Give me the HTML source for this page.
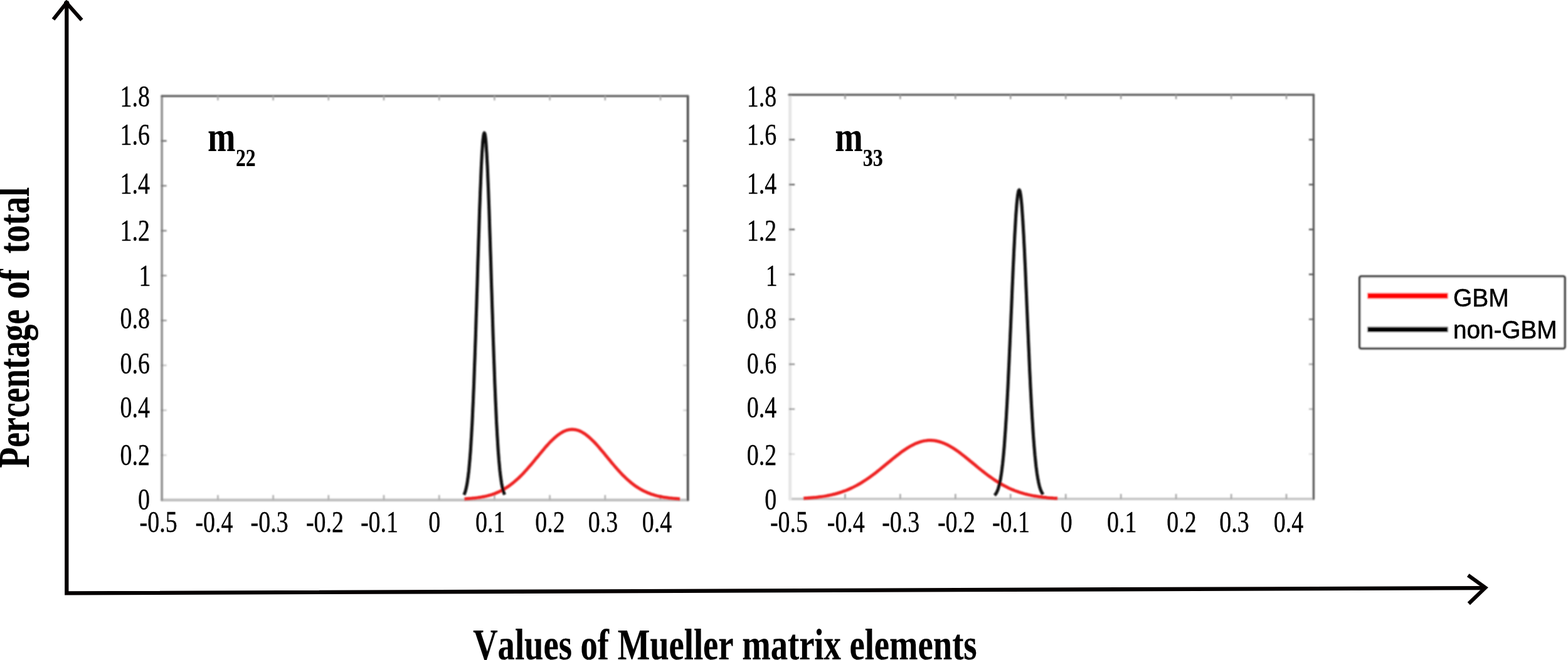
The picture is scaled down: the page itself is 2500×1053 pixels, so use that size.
<!DOCTYPE html>
<html lang="en"><head><meta charset="utf-8"><title>Values of Mueller matrix elements</title>
<style>
html,body{margin:0;padding:0;background:#fff;}
body{width:2500px;height:1053px;overflow:hidden;}
svg{display:block;}
.sf{font-family:"Liberation Serif","Times New Roman",Times,serif;fill:#000;stroke:#000;stroke-width:0.35px;stroke-linejoin:round;font-kerning:none;}
.bd{stroke-width:0.2px;}
.ss{font-family:"Liberation Sans",Arial,Helvetica,sans-serif;fill:#000;stroke:#000;stroke-width:0.6px;stroke-linejoin:round;font-kerning:none;}
</style></head><body>
<svg width="2500" height="1053" viewBox="0 0 2500 1053" role="img" aria-label="Distributions of Mueller matrix elements m22 and m33 for GBM and non-GBM">
<defs>
<filter id="b1" x="-5%" y="-5%" width="110%" height="110%"><feGaussianBlur stdDeviation="0.9"/></filter>
<filter id="b3" x="-5%" y="-5%" width="110%" height="110%"><feGaussianBlur stdDeviation="1.15"/></filter>
<filter id="b2" x="-5%" y="-20%" width="110%" height="140%"><feGaussianBlur stdDeviation="0.6"/></filter>
</defs>
<rect width="2500" height="1053" fill="#fff"/>
<g id="plots" filter="url(#b1)" fill="none" stroke-linecap="round">
<g id="frame-m22">
<line x1="258.1" y1="797.8" x2="1096.7" y2="797.8" stroke="#c0c0c0" stroke-width="4.4"/>
<line x1="258.1" y1="153.2" x2="258.1" y2="797.8" stroke="#909090" stroke-width="3.6"/>
<line x1="1096.7" y1="153.2" x2="1096.7" y2="797.8" stroke="#4c4c4c" stroke-width="3.6"/>
<line x1="258.1" y1="153.2" x2="1096.7" y2="153.2" stroke="#646464" stroke-width="3.6"/>
<line x1="347.4" y1="153.2" x2="347.4" y2="160.2" stroke="#a8a8a8" stroke-width="2.4" stroke-linecap="butt"/>
<line x1="347.4" y1="797.8" x2="347.4" y2="789.8" stroke="#b0b0b0" stroke-width="2.6" stroke-linecap="butt"/>
<line x1="435.6" y1="153.2" x2="435.6" y2="160.2" stroke="#a8a8a8" stroke-width="2.4" stroke-linecap="butt"/>
<line x1="435.6" y1="797.8" x2="435.6" y2="789.8" stroke="#b0b0b0" stroke-width="2.6" stroke-linecap="butt"/>
<line x1="523.8" y1="153.2" x2="523.8" y2="160.2" stroke="#a8a8a8" stroke-width="2.4" stroke-linecap="butt"/>
<line x1="523.8" y1="797.8" x2="523.8" y2="789.8" stroke="#b0b0b0" stroke-width="2.6" stroke-linecap="butt"/>
<line x1="612.0" y1="153.2" x2="612.0" y2="160.2" stroke="#a8a8a8" stroke-width="2.4" stroke-linecap="butt"/>
<line x1="612.0" y1="797.8" x2="612.0" y2="789.8" stroke="#b0b0b0" stroke-width="2.6" stroke-linecap="butt"/>
<line x1="700.2" y1="153.2" x2="700.2" y2="160.2" stroke="#a8a8a8" stroke-width="2.4" stroke-linecap="butt"/>
<line x1="700.2" y1="797.8" x2="700.2" y2="789.8" stroke="#b0b0b0" stroke-width="2.6" stroke-linecap="butt"/>
<line x1="788.4" y1="153.2" x2="788.4" y2="160.2" stroke="#a8a8a8" stroke-width="2.4" stroke-linecap="butt"/>
<line x1="788.4" y1="797.8" x2="788.4" y2="789.8" stroke="#b0b0b0" stroke-width="2.6" stroke-linecap="butt"/>
<line x1="876.6" y1="153.2" x2="876.6" y2="160.2" stroke="#a8a8a8" stroke-width="2.4" stroke-linecap="butt"/>
<line x1="876.6" y1="797.8" x2="876.6" y2="789.8" stroke="#b0b0b0" stroke-width="2.6" stroke-linecap="butt"/>
<line x1="964.8" y1="153.2" x2="964.8" y2="160.2" stroke="#a8a8a8" stroke-width="2.4" stroke-linecap="butt"/>
<line x1="964.8" y1="797.8" x2="964.8" y2="789.8" stroke="#b0b0b0" stroke-width="2.6" stroke-linecap="butt"/>
<line x1="1053.0" y1="153.2" x2="1053.0" y2="160.2" stroke="#a8a8a8" stroke-width="2.4" stroke-linecap="butt"/>
<line x1="1053.0" y1="797.8" x2="1053.0" y2="789.8" stroke="#b0b0b0" stroke-width="2.6" stroke-linecap="butt"/>
<line x1="256.6" y1="726.2" x2="265.6" y2="726.2" stroke="#707070" stroke-width="2.6" stroke-opacity="0.3" stroke-linecap="butt"/>
<line x1="1098.2" y1="726.2" x2="1089.2" y2="726.2" stroke="#585858" stroke-width="2.6" stroke-opacity="0.2" stroke-linecap="butt"/>
<line x1="256.6" y1="654.6" x2="265.6" y2="654.6" stroke="#707070" stroke-width="2.6" stroke-opacity="0.4" stroke-linecap="butt"/>
<line x1="1098.2" y1="654.6" x2="1089.2" y2="654.6" stroke="#585858" stroke-width="2.6" stroke-opacity="0.25" stroke-linecap="butt"/>
<line x1="256.6" y1="582.9" x2="265.6" y2="582.9" stroke="#707070" stroke-width="2.6" stroke-opacity="0.4" stroke-linecap="butt"/>
<line x1="1098.2" y1="582.9" x2="1089.2" y2="582.9" stroke="#585858" stroke-width="2.6" stroke-opacity="0.25" stroke-linecap="butt"/>
<line x1="256.6" y1="511.3" x2="265.6" y2="511.3" stroke="#707070" stroke-width="2.6" stroke-opacity="0.7" stroke-linecap="butt"/>
<line x1="1098.2" y1="511.3" x2="1089.2" y2="511.3" stroke="#585858" stroke-width="2.6" stroke-opacity="0.5" stroke-linecap="butt"/>
<line x1="256.6" y1="439.7" x2="265.6" y2="439.7" stroke="#707070" stroke-width="2.6" stroke-opacity="0.7" stroke-linecap="butt"/>
<line x1="1098.2" y1="439.7" x2="1089.2" y2="439.7" stroke="#585858" stroke-width="2.6" stroke-opacity="0.6" stroke-linecap="butt"/>
<line x1="256.6" y1="368.1" x2="265.6" y2="368.1" stroke="#707070" stroke-width="2.6" stroke-opacity="0.8" stroke-linecap="butt"/>
<line x1="1098.2" y1="368.1" x2="1089.2" y2="368.1" stroke="#585858" stroke-width="2.6" stroke-opacity="0.8" stroke-linecap="butt"/>
<line x1="256.6" y1="296.4" x2="265.6" y2="296.4" stroke="#707070" stroke-width="2.6" stroke-opacity="0.8" stroke-linecap="butt"/>
<line x1="1098.2" y1="296.4" x2="1089.2" y2="296.4" stroke="#585858" stroke-width="2.6" stroke-opacity="1.0" stroke-linecap="butt"/>
<line x1="256.6" y1="224.8" x2="265.6" y2="224.8" stroke="#707070" stroke-width="2.6" stroke-opacity="1.0" stroke-linecap="butt"/>
<line x1="1098.2" y1="224.8" x2="1089.2" y2="224.8" stroke="#585858" stroke-width="2.6" stroke-opacity="1.0" stroke-linecap="butt"/>
</g>
<g id="frame-m33">
<line x1="1259.6" y1="796.0" x2="2094.4" y2="796.0" stroke="#c8c8c8" stroke-width="3.8"/>
<line x1="1259.6" y1="151.2" x2="1259.6" y2="796.0" stroke="#e6e6e6" stroke-width="5.2"/>
<line x1="2094.4" y1="151.2" x2="2094.4" y2="796.0" stroke="#5c5c5c" stroke-width="3.3"/>
<line x1="1258.1" y1="151.2" x2="2094.4" y2="151.2" stroke="#646464" stroke-width="3.6"/>
<line x1="1347.4" y1="151.2" x2="1347.4" y2="158.2" stroke="#9a9a9a" stroke-width="2.4" stroke-linecap="butt"/>
<line x1="1347.4" y1="796.0" x2="1347.4" y2="788.0" stroke="#a8a8a8" stroke-width="2.6" stroke-linecap="butt"/>
<line x1="1435.3" y1="151.2" x2="1435.3" y2="158.2" stroke="#9a9a9a" stroke-width="2.4" stroke-linecap="butt"/>
<line x1="1435.3" y1="796.0" x2="1435.3" y2="788.0" stroke="#a8a8a8" stroke-width="2.6" stroke-linecap="butt"/>
<line x1="1523.3" y1="151.2" x2="1523.3" y2="158.2" stroke="#9a9a9a" stroke-width="2.4" stroke-linecap="butt"/>
<line x1="1523.3" y1="796.0" x2="1523.3" y2="788.0" stroke="#a8a8a8" stroke-width="2.6" stroke-linecap="butt"/>
<line x1="1611.2" y1="151.2" x2="1611.2" y2="158.2" stroke="#9a9a9a" stroke-width="2.4" stroke-linecap="butt"/>
<line x1="1611.2" y1="796.0" x2="1611.2" y2="788.0" stroke="#a8a8a8" stroke-width="2.6" stroke-linecap="butt"/>
<line x1="1699.2" y1="151.2" x2="1699.2" y2="158.2" stroke="#9a9a9a" stroke-width="2.4" stroke-linecap="butt"/>
<line x1="1699.2" y1="796.0" x2="1699.2" y2="788.0" stroke="#a8a8a8" stroke-width="2.6" stroke-linecap="butt"/>
<line x1="1787.2" y1="151.2" x2="1787.2" y2="158.2" stroke="#9a9a9a" stroke-width="2.4" stroke-linecap="butt"/>
<line x1="1787.2" y1="796.0" x2="1787.2" y2="788.0" stroke="#a8a8a8" stroke-width="2.6" stroke-linecap="butt"/>
<line x1="1875.1" y1="151.2" x2="1875.1" y2="158.2" stroke="#9a9a9a" stroke-width="2.4" stroke-linecap="butt"/>
<line x1="1875.1" y1="796.0" x2="1875.1" y2="788.0" stroke="#a8a8a8" stroke-width="2.6" stroke-linecap="butt"/>
<line x1="1963.1" y1="151.2" x2="1963.1" y2="158.2" stroke="#9a9a9a" stroke-width="2.4" stroke-linecap="butt"/>
<line x1="1963.1" y1="796.0" x2="1963.1" y2="788.0" stroke="#a8a8a8" stroke-width="2.6" stroke-linecap="butt"/>
<line x1="2051.0" y1="151.2" x2="2051.0" y2="158.2" stroke="#9a9a9a" stroke-width="2.4" stroke-linecap="butt"/>
<line x1="2051.0" y1="796.0" x2="2051.0" y2="788.0" stroke="#a8a8a8" stroke-width="2.6" stroke-linecap="butt"/>
<line x1="1258.1" y1="724.4" x2="1267.1" y2="724.4" stroke="#686868" stroke-width="2.6" stroke-opacity="0.25" stroke-linecap="butt"/>
<line x1="2095.9" y1="724.4" x2="2086.9" y2="724.4" stroke="#585858" stroke-width="2.6" stroke-opacity="0.2" stroke-linecap="butt"/>
<line x1="1258.1" y1="652.7" x2="1267.1" y2="652.7" stroke="#686868" stroke-width="2.6" stroke-opacity="0.6" stroke-linecap="butt"/>
<line x1="2095.9" y1="652.7" x2="2086.9" y2="652.7" stroke="#585858" stroke-width="2.6" stroke-opacity="0.4" stroke-linecap="butt"/>
<line x1="1258.1" y1="581.1" x2="1267.1" y2="581.1" stroke="#686868" stroke-width="2.6" stroke-opacity="0.7" stroke-linecap="butt"/>
<line x1="2095.9" y1="581.1" x2="2086.9" y2="581.1" stroke="#585858" stroke-width="2.6" stroke-opacity="0.5" stroke-linecap="butt"/>
<line x1="1258.1" y1="509.4" x2="1267.1" y2="509.4" stroke="#686868" stroke-width="2.6" stroke-opacity="0.8" stroke-linecap="butt"/>
<line x1="2095.9" y1="509.4" x2="2086.9" y2="509.4" stroke="#585858" stroke-width="2.6" stroke-opacity="0.8" stroke-linecap="butt"/>
<line x1="1258.1" y1="437.8" x2="1267.1" y2="437.8" stroke="#686868" stroke-width="2.6" stroke-opacity="0.9" stroke-linecap="butt"/>
<line x1="2095.9" y1="437.8" x2="2086.9" y2="437.8" stroke="#585858" stroke-width="2.6" stroke-opacity="1.0" stroke-linecap="butt"/>
<line x1="1258.1" y1="366.1" x2="1267.1" y2="366.1" stroke="#686868" stroke-width="2.6" stroke-opacity="1.0" stroke-linecap="butt"/>
<line x1="2095.9" y1="366.1" x2="2086.9" y2="366.1" stroke="#585858" stroke-width="2.6" stroke-opacity="1.0" stroke-linecap="butt"/>
<line x1="1258.1" y1="294.5" x2="1267.1" y2="294.5" stroke="#686868" stroke-width="2.6" stroke-opacity="1.0" stroke-linecap="butt"/>
<line x1="2095.9" y1="294.5" x2="2086.9" y2="294.5" stroke="#585858" stroke-width="2.6" stroke-opacity="1.0" stroke-linecap="butt"/>
<line x1="1258.1" y1="222.8" x2="1267.1" y2="222.8" stroke="#686868" stroke-width="2.6" stroke-opacity="1.0" stroke-linecap="butt"/>
<line x1="2095.9" y1="222.8" x2="2086.9" y2="222.8" stroke="#585858" stroke-width="2.6" stroke-opacity="1.0" stroke-linecap="butt"/>
</g>
</g>
<g id="curves" filter="url(#b3)" fill="none">
<g id="curves-m22" stroke-linecap="butt">
<path d="M740.5,795.9 L743.4,795.7 L746.2,795.5 L749.1,795.3 L752.0,795.1 L754.8,794.8 L757.7,794.5 L760.5,794.1 L763.4,793.7 L766.3,793.3 L769.1,792.8 L772.0,792.2 L774.9,791.6 L777.7,790.9 L780.6,790.1 L783.4,789.3 L786.3,788.3 L789.2,787.3 L792.0,786.1 L794.9,784.9 L797.8,783.5 L800.6,782.1 L803.5,780.5 L806.3,778.7 L809.2,776.9 L812.1,774.9 L814.9,772.8 L817.8,770.6 L820.6,768.2 L823.5,765.7 L826.4,763.1 L829.2,760.4 L832.1,757.5 L835.0,754.5 L837.8,751.4 L840.7,748.2 L843.5,744.9 L846.4,741.6 L849.3,738.2 L852.1,734.7 L855.0,731.2 L857.9,727.8 L860.7,724.3 L863.6,720.8 L866.5,717.4 L869.3,714.0 L872.2,710.8 L875.0,707.6 L877.9,704.6 L880.8,701.8 L883.6,699.1 L886.5,696.6 L889.4,694.3 L892.2,692.2 L895.1,690.4 L897.9,688.8 L900.8,687.5 L903.7,686.4 L906.5,685.7 L909.4,685.3 L912.2,685.1 L915.1,685.2 L918.0,685.7 L920.8,686.4 L923.7,687.4 L926.6,688.7 L929.4,690.3 L932.3,692.1 L935.1,694.2 L938.0,696.5 L940.9,699.0 L943.7,701.7 L946.6,704.5 L949.5,707.5 L952.3,710.7 L955.2,713.9 L958.0,717.3 L960.9,720.7 L963.8,724.1 L966.6,727.6 L969.5,731.1 L972.4,734.6 L975.2,738.1 L978.1,741.5 L981.0,744.8 L983.8,748.1 L986.7,751.3 L989.5,754.4 L992.4,757.4 L995.3,760.3 L998.1,763.0 L1001.0,765.6 L1003.9,768.1 L1006.7,770.5 L1009.6,772.8 L1012.4,774.9 L1015.3,776.8 L1018.2,778.7 L1021.0,780.4 L1023.9,782.0 L1026.8,783.5 L1029.6,784.8 L1032.5,786.1 L1035.3,787.2 L1038.2,788.3 L1041.1,789.2 L1043.9,790.1 L1046.8,790.9 L1049.7,791.6 L1052.5,792.2 L1055.4,792.8 L1058.2,793.3 L1061.1,793.7 L1064.0,794.1 L1066.8,794.5 L1069.7,794.8 L1072.5,795.1 L1075.4,795.3 L1078.3,795.5 L1081.1,795.7 L1084.0,795.9" stroke="#ee2020" stroke-width="5.0"/>
<path d="M739.8,789.5 L740.3,788.3 L740.9,787.0 L741.4,785.5 L742.0,783.8 L742.5,781.9 L743.0,779.8 L743.6,777.4 L744.1,774.8 L744.7,771.8 L745.2,768.6 L745.7,764.9 L746.3,761.0 L746.8,756.6 L747.4,751.8 L747.9,746.5 L748.4,740.8 L749.0,734.6 L749.5,727.8 L750.1,720.5 L750.6,712.7 L751.1,704.2 L751.7,695.2 L752.2,685.5 L752.8,675.3 L753.3,664.3 L753.8,652.8 L754.4,640.7 L754.9,627.9 L755.5,614.5 L756.0,600.5 L756.5,586.0 L757.1,571.0 L757.6,555.4 L758.2,539.4 L758.7,523.1 L759.2,506.3 L759.8,489.3 L760.3,472.1 L760.9,454.8 L761.4,437.3 L761.9,420.0 L762.5,402.7 L763.0,385.6 L763.6,368.8 L764.1,352.4 L764.6,336.5 L765.2,321.2 L765.7,306.5 L766.3,292.6 L766.8,279.6 L767.3,267.5 L767.9,256.4 L768.4,246.4 L769.0,237.6 L769.5,230.0 L770.0,223.7 L770.6,218.7 L771.1,215.1 L771.7,212.8 L772.2,212.0 L772.7,212.6 L773.3,214.6 L773.8,217.9 L774.4,222.7 L774.9,228.7 L775.4,236.1 L776.0,244.7 L776.5,254.5 L777.1,265.3 L777.6,277.3 L778.1,290.1 L778.7,303.9 L779.2,318.4 L779.8,333.6 L780.3,349.4 L780.8,365.7 L781.4,382.5 L781.9,399.5 L782.5,416.7 L783.0,434.1 L783.5,451.5 L784.1,468.9 L784.6,486.1 L785.2,503.2 L785.7,520.0 L786.2,536.4 L786.8,552.5 L787.3,568.1 L787.9,583.3 L788.4,597.9 L788.9,612.0 L789.5,625.5 L790.0,638.3 L790.6,650.6 L791.1,662.3 L791.6,673.3 L792.2,683.7 L792.7,693.4 L793.3,702.6 L793.8,711.2 L794.3,719.1 L794.9,726.5 L795.4,733.4 L796.0,739.7 L796.5,745.5 L797.0,750.8 L797.6,755.7 L798.1,760.2 L798.7,764.2 L799.2,767.9 L799.7,771.2 L800.3,774.2 L800.8,776.9 L801.4,779.4 L801.9,781.5 L802.4,783.5 L803.0,785.2 L803.5,786.7 L804.1,788.1 L804.6,789.3" stroke="#080808" stroke-width="5.0" stroke-linejoin="round"/>
</g>
<g id="curves-m33" stroke-linecap="butt">
<path d="M1281.3,795.0 L1284.7,794.8 L1288.0,794.6 L1291.4,794.3 L1294.8,794.0 L1298.2,793.7 L1301.5,793.4 L1304.9,793.0 L1308.3,792.6 L1311.7,792.1 L1315.0,791.6 L1318.4,791.0 L1321.8,790.3 L1325.1,789.6 L1328.5,788.8 L1331.9,788.0 L1335.3,787.0 L1338.6,786.0 L1342.0,784.9 L1345.4,783.7 L1348.8,782.5 L1352.1,781.1 L1355.5,779.6 L1358.9,778.1 L1362.2,776.4 L1365.6,774.6 L1369.0,772.7 L1372.4,770.8 L1375.7,768.7 L1379.1,766.5 L1382.5,764.3 L1385.8,761.9 L1389.2,759.5 L1392.6,757.0 L1396.0,754.4 L1399.3,751.8 L1402.7,749.1 L1406.1,746.3 L1409.5,743.5 L1412.8,740.8 L1416.2,738.0 L1419.6,735.2 L1422.9,732.4 L1426.3,729.7 L1429.7,727.0 L1433.1,724.4 L1436.4,721.8 L1439.8,719.4 L1443.2,717.1 L1446.6,714.9 L1449.9,712.8 L1453.3,710.9 L1456.7,709.2 L1460.0,707.6 L1463.4,706.3 L1466.8,705.1 L1470.2,704.1 L1473.5,703.4 L1476.9,702.9 L1480.3,702.6 L1483.7,702.5 L1487.0,702.7 L1490.4,703.0 L1493.8,703.7 L1497.1,704.5 L1500.5,705.5 L1503.9,706.8 L1507.3,708.2 L1510.6,709.8 L1514.0,711.6 L1517.4,713.6 L1520.7,715.7 L1524.1,717.9 L1527.5,720.3 L1530.9,722.8 L1534.2,725.4 L1537.6,728.0 L1541.0,730.7 L1544.4,733.5 L1547.7,736.2 L1551.1,739.0 L1554.5,741.8 L1557.8,744.6 L1561.2,747.4 L1564.6,750.1 L1568.0,752.8 L1571.3,755.4 L1574.7,758.0 L1578.1,760.4 L1581.5,762.8 L1584.8,765.2 L1588.2,767.4 L1591.6,769.5 L1594.9,771.5 L1598.3,773.5 L1601.7,775.3 L1605.1,777.0 L1608.4,778.7 L1611.8,780.2 L1615.2,781.6 L1618.5,783.0 L1621.9,784.2 L1625.3,785.4 L1628.7,786.4 L1632.0,787.4 L1635.4,788.3 L1638.8,789.1 L1642.2,789.9 L1645.5,790.6 L1648.9,791.2 L1652.3,791.8 L1655.6,792.3 L1659.0,792.7 L1662.4,793.2 L1665.8,793.5 L1669.1,793.9 L1672.5,794.2 L1675.9,794.4 L1679.3,794.7 L1682.6,794.9 L1686.0,795.0" stroke="#ee2020" stroke-width="5.0"/>
<path d="M1585.7,790.2 L1586.3,789.6 L1587.0,788.8 L1587.6,788.0 L1588.3,787.0 L1588.9,785.9 L1589.6,784.6 L1590.2,783.1 L1590.9,781.5 L1591.5,779.7 L1592.1,777.6 L1592.8,775.3 L1593.4,772.7 L1594.1,769.8 L1594.7,766.7 L1595.4,763.1 L1596.0,759.2 L1596.7,754.9 L1597.3,750.2 L1597.9,745.1 L1598.6,739.5 L1599.2,733.4 L1599.9,726.8 L1600.5,719.7 L1601.2,712.0 L1601.8,703.8 L1602.4,695.0 L1603.1,685.7 L1603.7,675.8 L1604.4,665.3 L1605.0,654.3 L1605.7,642.7 L1606.3,630.5 L1607.0,617.9 L1607.6,604.7 L1608.2,591.2 L1608.9,577.2 L1609.5,562.8 L1610.2,548.2 L1610.8,533.3 L1611.5,518.2 L1612.1,503.0 L1612.8,487.8 L1613.4,472.6 L1614.0,457.6 L1614.7,442.7 L1615.3,428.2 L1616.0,414.1 L1616.6,400.4 L1617.3,387.3 L1617.9,374.9 L1618.6,363.3 L1619.2,352.4 L1619.8,342.5 L1620.5,333.5 L1621.1,325.6 L1621.8,318.8 L1622.4,313.2 L1623.1,308.8 L1623.7,305.6 L1624.3,303.7 L1625.0,303.0 L1625.6,303.6 L1626.3,305.5 L1626.9,308.7 L1627.6,313.1 L1628.2,318.7 L1628.9,325.5 L1629.5,333.4 L1630.1,342.3 L1630.8,352.2 L1631.4,363.0 L1632.1,374.7 L1632.7,387.1 L1633.4,400.2 L1634.0,413.8 L1634.7,428.0 L1635.3,442.5 L1635.9,457.3 L1636.6,472.4 L1637.2,487.5 L1637.9,502.8 L1638.5,517.9 L1639.2,533.0 L1639.8,547.9 L1640.5,562.6 L1641.1,576.9 L1641.7,590.9 L1642.4,604.5 L1643.0,617.6 L1643.7,630.3 L1644.3,642.4 L1645.0,654.0 L1645.6,665.1 L1646.3,675.6 L1646.9,685.5 L1647.5,694.9 L1648.2,703.7 L1648.8,711.9 L1649.5,719.5 L1650.1,726.7 L1650.8,733.3 L1651.4,739.4 L1652.0,745.0 L1652.7,750.1 L1653.3,754.8 L1654.0,759.1 L1654.6,763.1 L1655.3,766.6 L1655.9,769.8 L1656.6,772.7 L1657.2,775.3 L1657.8,777.6 L1658.5,779.6 L1659.1,781.5 L1659.8,783.1 L1660.4,784.6 L1661.1,785.8 L1661.7,787.0 L1662.4,787.9 L1663.0,788.8" stroke="#080808" stroke-width="5.0" stroke-linejoin="round"/>
</g>
</g>
<g id="legend">
<g filter="url(#b1)">
<rect x="2167.7" y="440.9" width="327.3" height="115.0" rx="2.5" fill="#fff" stroke="#333333" stroke-width="3.4"/>
<line x1="2180" y1="472" x2="2308.6" y2="472" stroke="#ff0000" stroke-width="8.8"/>
<line x1="2180" y1="525.8" x2="2308.6" y2="525.8" stroke="#000" stroke-width="8.4"/>
</g>
<text class="ss" transform="translate(2316.9,489.0) scale(0.95,1)" font-size="41" font-weight="normal" text-anchor="start" filter="url(#b2)">GBM</text>
<text class="ss" transform="translate(2317.0,540.0) scale(0.943,1)" font-size="41" font-weight="normal" text-anchor="start" filter="url(#b2)">non-GBM</text>
</g>
<g id="axes" fill="none" stroke="#050000" stroke-width="6.3">
<path d="M106.3,1.5 L106.3,946.4 L2368.3,938.1" stroke-linejoin="miter"/>
<path d="M85,31 L106,4.6 L130.3,32.1" stroke-width="6" stroke-linejoin="miter"/>
<path d="M2340.7,917.8 L2368.2,937.6 L2341.8,963.0" stroke-width="6" stroke-linejoin="miter"/>
<path d="M105.9,0 L102,3.6 L102,8 L110.4,8 L110.4,3.6 Z" fill="#050000" stroke="none"/>
</g>
<g id="yticks-m22">
<text class="sf" transform="translate(239.0,170.0) scale(0.785,1)" font-size="48.3" font-weight="normal" text-anchor="end">1.8</text>
<text class="sf" transform="translate(239.0,230.6) scale(0.785,1)" font-size="48.3" font-weight="normal" text-anchor="end">1.6</text>
<text class="sf" transform="translate(239.0,309.0) scale(0.785,1)" font-size="48.3" font-weight="normal" text-anchor="end">1.4</text>
<text class="sf" transform="translate(239.0,384.3) scale(0.785,1)" font-size="48.3" font-weight="normal" text-anchor="end">1.2</text>
<text class="sf" transform="translate(240.5,455.8) scale(0.785,1)" font-size="48.3" font-weight="normal" text-anchor="end">1</text>
<text class="sf" transform="translate(239.0,523.5) scale(0.785,1)" font-size="48.3" font-weight="normal" text-anchor="end">0.8</text>
<text class="sf" transform="translate(239.0,596.2) scale(0.785,1)" font-size="48.3" font-weight="normal" text-anchor="end">0.6</text>
<text class="sf" transform="translate(239.0,665.9) scale(0.785,1)" font-size="48.3" font-weight="normal" text-anchor="end">0.4</text>
<text class="sf" transform="translate(239.0,742.3) scale(0.785,1)" font-size="48.3" font-weight="normal" text-anchor="end">0.2</text>
<text class="sf" transform="translate(239.0,812.8) scale(0.785,1)" font-size="48.3" font-weight="normal" text-anchor="end">0</text>
</g>
<g id="yticks-m33">
<text class="sf" transform="translate(1238.2,170.0) scale(0.785,1)" font-size="48.3" font-weight="normal" text-anchor="end">1.8</text>
<text class="sf" transform="translate(1238.2,230.6) scale(0.785,1)" font-size="48.3" font-weight="normal" text-anchor="end">1.6</text>
<text class="sf" transform="translate(1238.2,309.0) scale(0.785,1)" font-size="48.3" font-weight="normal" text-anchor="end">1.4</text>
<text class="sf" transform="translate(1238.2,384.3) scale(0.785,1)" font-size="48.3" font-weight="normal" text-anchor="end">1.2</text>
<text class="sf" transform="translate(1239.7,455.8) scale(0.785,1)" font-size="48.3" font-weight="normal" text-anchor="end">1</text>
<text class="sf" transform="translate(1238.2,523.5) scale(0.785,1)" font-size="48.3" font-weight="normal" text-anchor="end">0.8</text>
<text class="sf" transform="translate(1238.2,596.2) scale(0.785,1)" font-size="48.3" font-weight="normal" text-anchor="end">0.6</text>
<text class="sf" transform="translate(1238.2,665.9) scale(0.785,1)" font-size="48.3" font-weight="normal" text-anchor="end">0.4</text>
<text class="sf" transform="translate(1238.2,742.3) scale(0.785,1)" font-size="48.3" font-weight="normal" text-anchor="end">0.2</text>
<text class="sf" transform="translate(1238.2,812.8) scale(0.785,1)" font-size="48.3" font-weight="normal" text-anchor="end">0</text>
</g>
<g id="xticks-m22">
<text class="sf" transform="translate(252.6,849.2) scale(0.785,1)" font-size="48.3" font-weight="normal" text-anchor="middle">-0.5</text>
<text class="sf" transform="translate(341.5,849.2) scale(0.785,1)" font-size="48.3" font-weight="normal" text-anchor="middle">-0.4</text>
<text class="sf" transform="translate(429.6,849.2) scale(0.785,1)" font-size="48.3" font-weight="normal" text-anchor="middle">-0.3</text>
<text class="sf" transform="translate(518.0,849.2) scale(0.785,1)" font-size="48.3" font-weight="normal" text-anchor="middle">-0.2</text>
<text class="sf" transform="translate(605.0,849.2) scale(0.785,1)" font-size="48.3" font-weight="normal" text-anchor="middle">-0.1</text>
<text class="sf" transform="translate(692.7,849.2) scale(0.785,1)" font-size="48.3" font-weight="normal" text-anchor="middle">0</text>
<text class="sf" transform="translate(781.7,849.2) scale(0.785,1)" font-size="48.3" font-weight="normal" text-anchor="middle">0.1</text>
<text class="sf" transform="translate(877.0,849.2) scale(0.785,1)" font-size="48.3" font-weight="normal" text-anchor="middle">0.2</text>
<text class="sf" transform="translate(961.5,849.2) scale(0.785,1)" font-size="48.3" font-weight="normal" text-anchor="middle">0.3</text>
<text class="sf" transform="translate(1047.4,849.2) scale(0.785,1)" font-size="48.3" font-weight="normal" text-anchor="middle">0.4</text>
</g>
<g id="xticks-m33">
<text class="sf" transform="translate(1258.0,849.2) scale(0.785,1)" font-size="48.3" font-weight="normal" text-anchor="middle">-0.5</text>
<text class="sf" transform="translate(1348.8,849.2) scale(0.785,1)" font-size="48.3" font-weight="normal" text-anchor="middle">-0.4</text>
<text class="sf" transform="translate(1436.2,849.2) scale(0.785,1)" font-size="48.3" font-weight="normal" text-anchor="middle">-0.3</text>
<text class="sf" transform="translate(1525.0,849.2) scale(0.785,1)" font-size="48.3" font-weight="normal" text-anchor="middle">-0.2</text>
<text class="sf" transform="translate(1612.0,849.2) scale(0.785,1)" font-size="48.3" font-weight="normal" text-anchor="middle">-0.1</text>
<text class="sf" transform="translate(1700.3,849.2) scale(0.785,1)" font-size="48.3" font-weight="normal" text-anchor="middle">0</text>
<text class="sf" transform="translate(1788.7,849.2) scale(0.785,1)" font-size="48.3" font-weight="normal" text-anchor="middle">0.1</text>
<text class="sf" transform="translate(1884.0,849.2) scale(0.785,1)" font-size="48.3" font-weight="normal" text-anchor="middle">0.2</text>
<text class="sf" transform="translate(1968.0,849.2) scale(0.785,1)" font-size="48.3" font-weight="normal" text-anchor="middle">0.3</text>
<text class="sf" transform="translate(2054.5,849.2) scale(0.785,1)" font-size="48.3" font-weight="normal" text-anchor="middle">0.4</text>
</g>
<g id="panel-labels">
<text class="sf bd" transform="translate(331.2,241.2) scale(0.785,1)" font-size="67.5" font-weight="bold" text-anchor="start">m</text>
<text class="sf bd" transform="translate(376.0,264.5) scale(0.77,1)" font-size="41" font-weight="bold" text-anchor="start">22</text>
<text class="sf bd" transform="translate(1331.5,241.2) scale(0.785,1)" font-size="67.5" font-weight="bold" text-anchor="start">m</text>
<text class="sf bd" transform="translate(1375.8,264.5) scale(0.78,1)" font-size="41" font-weight="bold" text-anchor="start">33</text>
</g>
<text class="sf bd" transform="translate(754.2,1051.6) scale(0.7935,1)" font-size="68.8" font-weight="bold" text-anchor="start">Values of Mueller matrix elements</text>
<g id="ylabel" font-size="69.5" font-weight="bold">
<text class="sf bd" transform="translate(46.3,746.6) rotate(-90) scale(0.771,1)">Percentage</text>
<text class="sf bd" transform="translate(46.3,477.0) rotate(-90) scale(0.82,1)">of</text>
<text class="sf bd" transform="translate(46.3,404.6) rotate(-90) scale(0.7845,1)">total</text>
</g>
</svg></body></html>
